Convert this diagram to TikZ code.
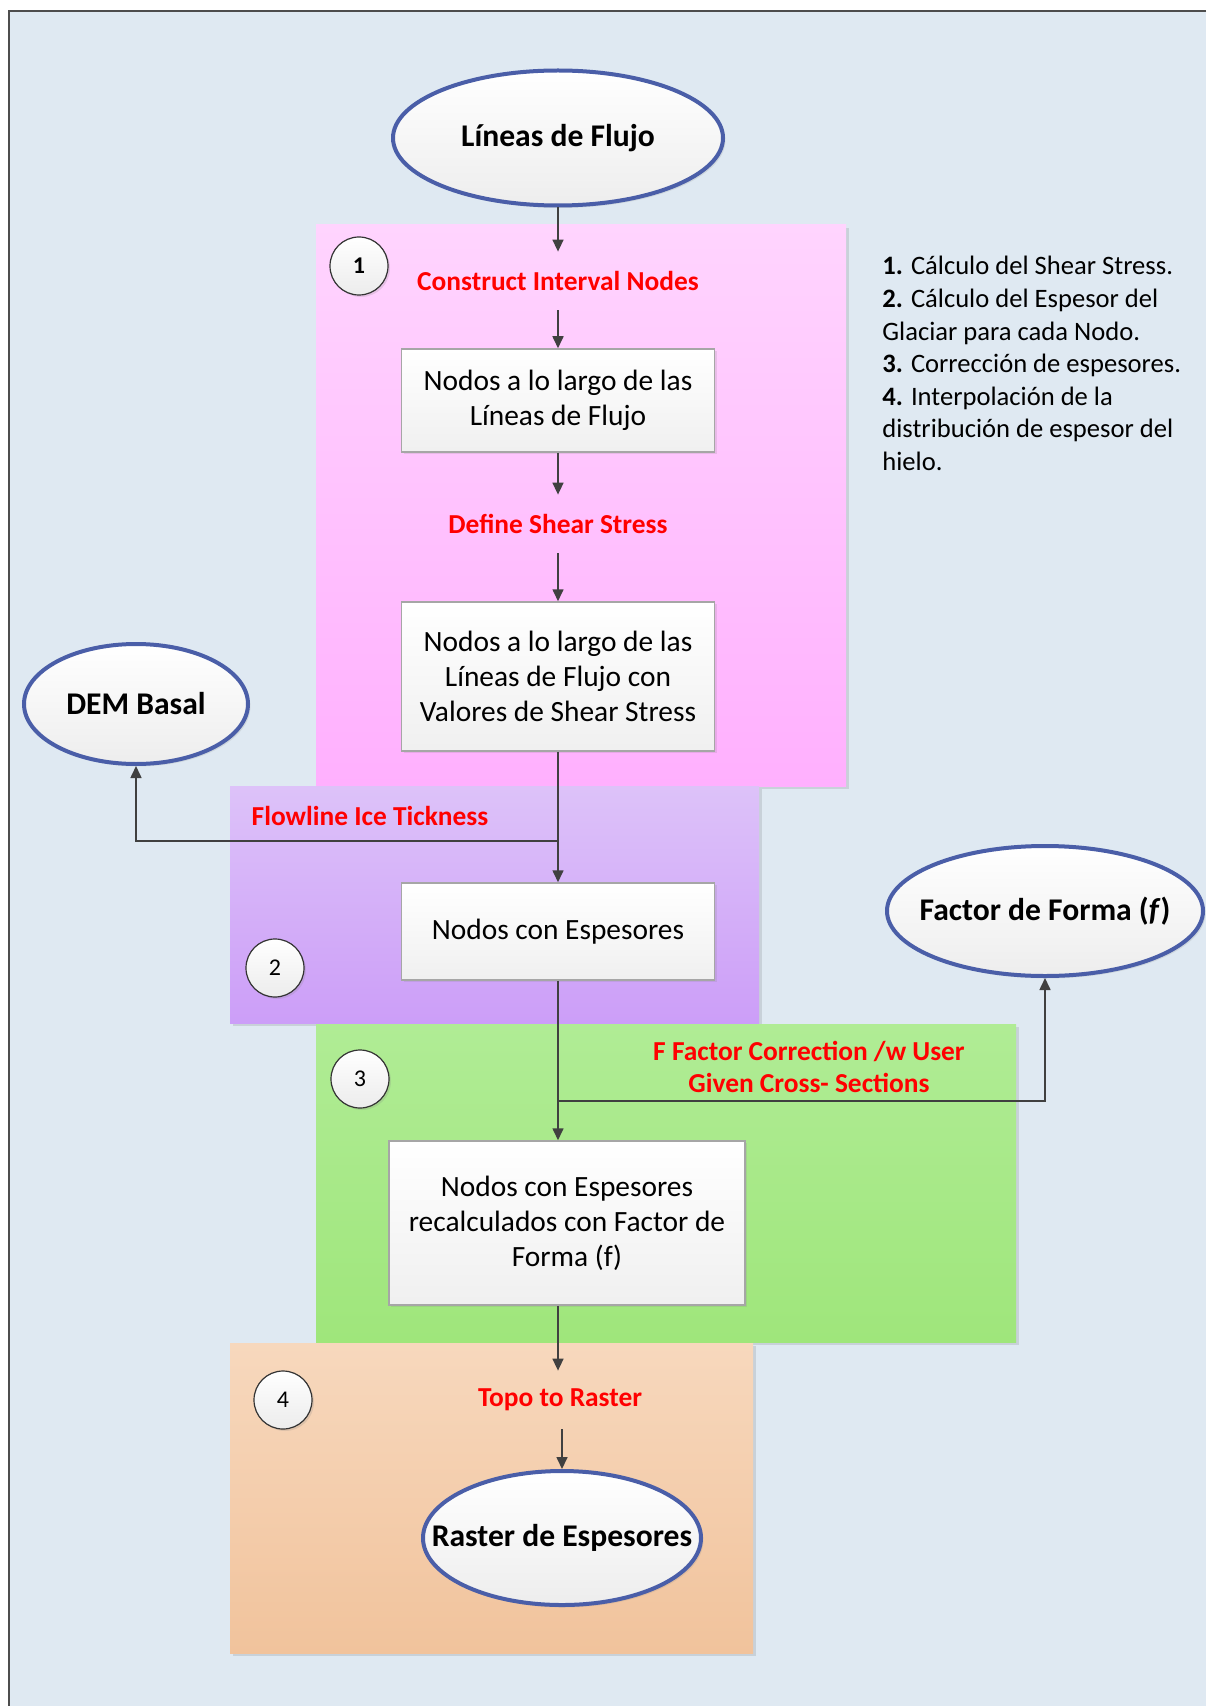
\documentclass[tikz,border=0pt]{standalone}
\usepackage{fontspec}
\setmainfont{Carlito}
\usetikzlibrary{arrows.meta,shapes.geometric,shadows}

\definecolor{fondo}{HTML}{DFE9F2}
\definecolor{marco}{HTML}{4D4D4D}
\definecolor{rosaA}{HTML}{FFD4FE}
\definecolor{rosaB}{HTML}{FFB0FE}
\definecolor{lilaA}{HTML}{DDC2F9}
\definecolor{lilaB}{HTML}{CC9EF8}
\definecolor{verdeA}{HTML}{B0EC95}
\definecolor{verdeB}{HTML}{9FE67B}
\definecolor{naranjaA}{HTML}{F7D8BD}
\definecolor{naranjaB}{HTML}{F1C39C}
\definecolor{bordeazul}{HTML}{4A5EA8}
\definecolor{flecha}{HTML}{404040}
\definecolor{rojo}{HTML}{FF0000}

\begin{document}
\begin{tikzpicture}[x=0.5pt, y=-0.5pt,
    elipse/.style={ellipse, draw=bordeazul, line width=2pt, top color=white, bottom color=gray!14,
        inner xsep=-16pt, inner ysep=0pt, font=\bfseries\fontsize{15.8}{18}\selectfont,
        drop shadow={opacity=0.18, shadow xshift=1.2pt, shadow yshift=-1.2pt}},
    caja/.style={rectangle, draw=gray!70, line width=0.75pt, top color=white, bottom color=gray!12,
        minimum width=156.5pt, align=center, font=\fontsize{14.7}{17.5}\selectfont,
        drop shadow={opacity=0.18, shadow xshift=1.2pt, shadow yshift=-1.2pt}},
    paso/.style={circle, draw=black!80, line width=0.6pt, top color=white, bottom color=gray!15,
        minimum size=29pt, inner sep=0pt, font=\fontsize{12}{14}\selectfont,
        drop shadow={opacity=0.2, shadow xshift=1pt, shadow yshift=-1pt}},
    etiqueta/.style={text=rojo, minimum height=29pt, inner sep=0pt, align=center,
        font=\bfseries\fontsize{13.7}{16.3}\selectfont},
    flujo/.style={draw=flecha, line width=0.8pt, -{Triangle[width=5.5pt,length=6pt]}}]

    % Fond et cadre
    \useasboundingbox (0,0) rectangle (1206,1706);
    \fill[white] (0,0) rectangle (1206,1706);
    \fill[fondo] (9,11) rectangle (1206,1706);
    \draw[marco, line width=1.25pt] (1206,11) -- (9,11) -- (9,1706);

    % Panneaux des etapes
    \fill[black, opacity=0.1] (319,228) rectangle (849,789);
    \shade[top color=rosaA, bottom color=rosaB] (316,225) rectangle (846,786);
    \fill[black, opacity=0.1] (233,789) rectangle (762,1026);
    \shade[top color=lilaA, bottom color=lilaB] (230,786) rectangle (759,1023);
    \fill[black, opacity=0.1] (319,1027) rectangle (1019,1345);
    \shade[top color=verdeA, bottom color=verdeB] (316,1024) rectangle (1016,1342);
    \fill[black, opacity=0.1] (233,1346) rectangle (756,1656);
    \shade[top color=naranjaA, bottom color=naranjaB] (230,1343) rectangle (753,1653);

    % Numeros des etapes
    \node[paso, font=\bfseries\fontsize{12}{14}\selectfont] (n1) at (359,266) {1};
    \node[paso] (n2) at (275,968) {2};
    \node[paso] (n3) at (360,1079) {3};
    \node[paso] (n4) at (283,1400) {4};

    % Entrees et sorties
    \node[elipse, minimum width=165pt, minimum height=67.5pt] (lineas) at (558,138) {Líneas de Flujo};
    \node[elipse, minimum width=112pt, minimum height=60pt] (dem) at (136,704) {DEM Basal};
    \node[elipse, minimum width=158pt, minimum height=65pt] (forma) at (1045,911) {Factor de Forma (\textit{f})};
    \node[elipse, minimum width=139pt, minimum height=67pt] (raster) at (562,1538) {Raster de Espesores};

    % Operations
    \node[etiqueta] (op1) at (558,281) {Construct Interval Nodes};
    \node[etiqueta] (op2) at (558,524) {Define Shear Stress};
    \node[etiqueta] (op3) at (370,816) {Flowline Ice Tickness};
    \node[etiqueta] (op4) at (809,1067) {F Factor Correction /w User\\Given Cross- Sections};
    \node[etiqueta] (op5) at (560,1400) {Topo to Raster};

    % Resultats intermediaires
    \node[caja, minimum height=51.5pt] (caja1) at (558,400.5) {Nodos a lo largo de las\\Líneas de Flujo};
    \node[caja, minimum height=74.5pt] (caja2) at (558,676.5) {Nodos a lo largo de las\\Líneas de Flujo con\\Valores de Shear Stress};
    \node[caja, minimum height=48.5pt] (caja3) at (558,931.5) {Nodos con Espesores};
    \node[caja, minimum width=178pt, minimum height=82pt] (caja4) at (567,1223) {Nodos con Espesores\\recalculados con Factor de\\Forma (f)};

    % Connecteurs
    \coordinate (j1) at (558,841);
    \coordinate (j2) at (558,1101);
    \draw[flujo] (lineas) -- (op1);
    \draw[flujo] (op1) -- (caja1);
    \draw[flujo] (caja1) -- (op2);
    \draw[flujo] (op2) -- (caja2);
    \draw[flujo] (caja2) -- (caja3);
    \draw[flujo] (j1) -| (dem);
    \draw[flujo] (caja3.south) -- (caja3.south |- caja4.north);
    \draw[flujo] (j2) -| (forma);
    \draw[flujo] (caja3.south |- caja4.south) -- (op5.north -| caja3.south);
    \draw[flujo] (op5.south -| raster.north) -- (raster);

    % Legende
    \node[anchor=north west, inner sep=0pt, align=left, font=\fontsize{13.3}{16.3}\selectfont] (notas) at (882,256)
        {\textbf{1.} Cálculo del Shear Stress.\\
         \textbf{2.} Cálculo del Espesor del\\
         Glaciar para cada Nodo.\\
         \textbf{3.} Corrección de espesores.\\
         \textbf{4.} Interpolación de la\\
         distribución de espesor del\\
         hielo.};
\end{tikzpicture}
\end{document}
